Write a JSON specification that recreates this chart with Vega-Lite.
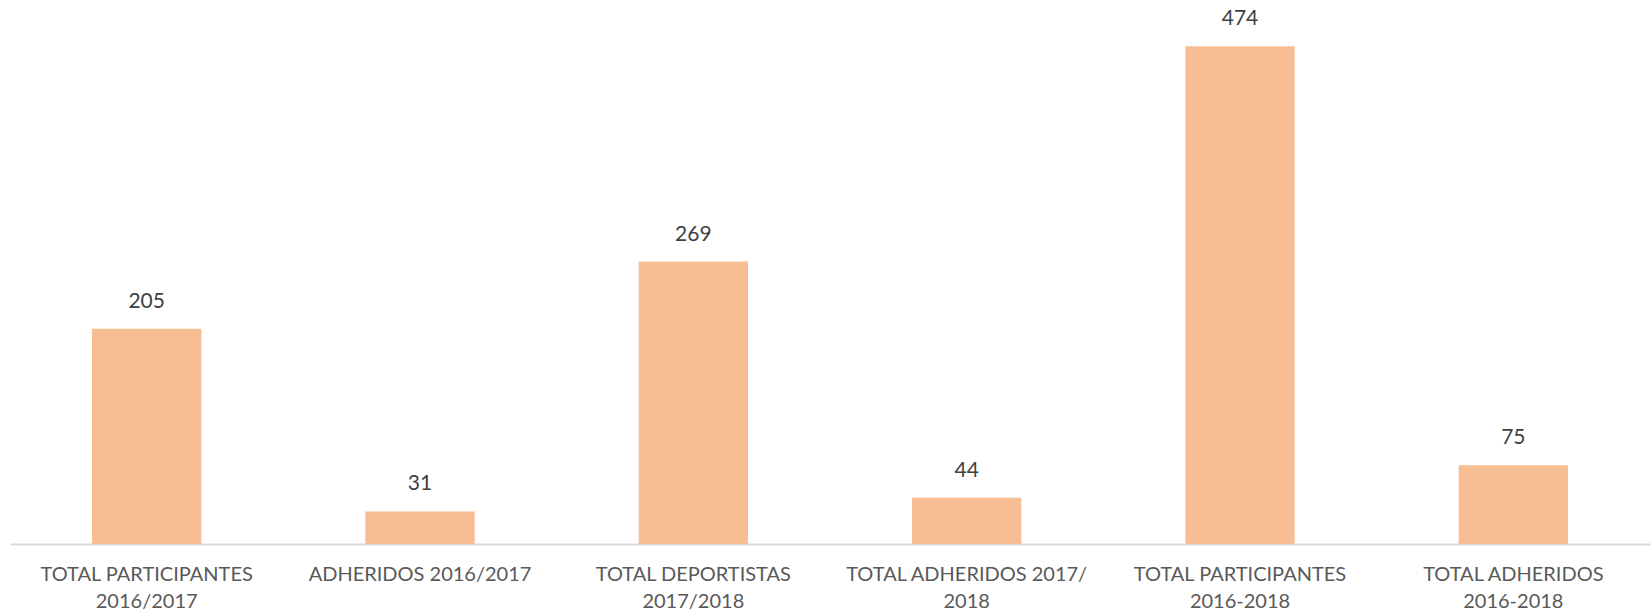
{
  "$schema": "https://vega.github.io/schema/vega-lite/v6.json",
  "autosize": "none",
  "padding": {"left": 10, "top": 19, "right": 2, "bottom": 70},
  "width": 1640,
  "height": 525,
  "background": "white",
  "config": {"view": {"stroke": null}},
  "data": {"values": [
    {"cat": "TOTAL PARTICIPANTES\n2016/2017", "v": 205},
    {"cat": "ADHERIDOS 2016/2017", "v": 31},
    {"cat": "TOTAL DEPORTISTAS\n2017/2018", "v": 269},
    {"cat": "TOTAL ADHERIDOS  2017/\n2018", "v": 44},
    {"cat": "TOTAL PARTICIPANTES\n2016-2018", "v": 474},
    {"cat": "TOTAL ADHERIDOS\n2016-2018", "v": 75}
  ]},
  "encoding": {
    "x": {"field": "cat", "type": "nominal", "sort": null,
      "scale": {"paddingInner": 0.6, "paddingOuter": 0.3},
      "axis": {"title": null, "labelAngle": 0, "ticks": false,
        "domainColor": "#D9D9D9", "domainWidth": 2,
        "labelExpr": "split(datum.label, '\\n')",
        "labelFont": "Lato", "labelFontSize": 20, "labelColor": "#595959",
        "labelPadding": 20, "labelLineHeight": 27, "labelLimit": 400}},
    "y": {"field": "v", "type": "quantitative", "scale": {"domain": [0, 500]}, "axis": null}
  },
  "layer": [
    {"mark": {"type": "bar", "color": "#F7BE94"}},
    {"mark": {"type": "text", "dy": -17, "baseline": "bottom", "font": "Lato", "fontSize": 21, "color": "#404040"},
     "encoding": {"text": {"field": "v", "type": "quantitative"}}}
  ]
}
